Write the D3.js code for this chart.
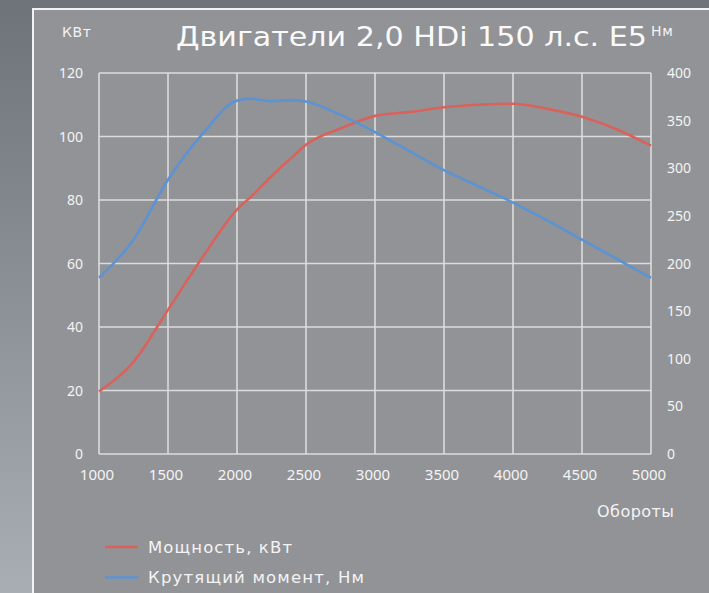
<!DOCTYPE html>
<html>
<head>
<meta charset="utf-8">
<script src="https://cdn.jsdelivr.net/npm/d3@7"></script>
<style>
  html, body { margin: 0; padding: 0; background: #72767c; }
  svg { display: block; font-family: "DejaVu Sans", sans-serif; }
</style>
</head>
<body>
<svg id="chart"></svg>
<script>
// data
const rpm    = [1000, 1250, 1500, 1750, 2000, 2100, 2250, 2400, 2500, 2750, 3000, 3250, 3500, 3750, 4000, 4250, 4500, 4750, 5000];
const power  = [19.7, 29, 45.4, 62, 77, 81, 87.5, 93.5, 97.4, 102.5, 106.5, 107.7, 109.2, 110, 110.3, 108.7, 106.2, 102.3, 97.1];
const torque = [185, 225, 288, 336, 371, 373, 370.5, 371.5, 370, 356, 338, 318, 298, 281, 264, 245, 225, 205, 185];

const xTicks = [1000, 1500, 2000, 2500, 3000, 3500, 4000, 4500, 5000];
const kwTicks = [0, 20, 40, 60, 80, 100, 120];
const nmTicks = [0, 50, 100, 150, 200, 250, 300, 350, 400];

const width = 709, height = 593;
const margin = { top: 73, right: 58, bottom: 139, left: 99 };
const innerWidth = width - margin.left - margin.right;
const innerHeight = height - margin.top - margin.bottom;

const svg = d3.select("#chart").attr("width", width).attr("height", height);

// background
const defs = svg.append("defs");
const grad = defs.append("linearGradient").attr("id", "bg").attr("x1", 0).attr("y1", 0).attr("x2", 0).attr("y2", 1);
grad.append("stop").attr("offset", "0%").attr("stop-color", "#6e7279");
grad.append("stop").attr("offset", "100%").attr("stop-color", "#a9aeb4");
svg.append("rect").attr("width", width).attr("height", height).attr("fill", "url(#bg)");
svg.append("rect").attr("x", 0).attr("y", 0).attr("width", width).attr("height", 8).attr("fill", "#6f737a");
svg.append("rect")
  .attr("x", 33).attr("y", 9).attr("width", width - 33).attr("height", height - 9)
  .attr("fill", "#929397");
svg.append("path")
  .attr("d", `M33,${height} V9 H${width}`)
  .attr("fill", "none").attr("stroke", "#f2f2f2").attr("stroke-width", 2);

// scales in page coordinates
const x = d3.scaleLinear().domain([1000, 5000]).range([margin.left, margin.left + innerWidth]);
const yKw = d3.scaleLinear().domain([0, 120]).range([margin.top + innerHeight, margin.top]);
const yNm = d3.scaleLinear().domain([0, 400]).range([margin.top + innerHeight, margin.top]);

// grid
const gridColor = "#dcdcdc";
svg.append("g").selectAll("line").data(xTicks).enter().append("line")
  .attr("x1", d => x(d)).attr("x2", d => x(d))
  .attr("y1", yKw(120)).attr("y2", yKw(0))
  .attr("stroke", gridColor).attr("stroke-width", 1.6);
svg.append("g").selectAll("line").data(kwTicks).enter().append("line")
  .attr("x1", x(1000)).attr("x2", x(5000))
  .attr("y1", d => yKw(d)).attr("y2", d => yKw(d))
  .attr("stroke", gridColor).attr("stroke-width", 1.6);

// tick labels
const textColor = "#f4f4f4";
const numFont = "Noto Sans";
svg.append("g").selectAll("text").data(xTicks).enter().append("text")
  .attr("x", d => x(d) - 2).attr("y", yKw(0) + 26)
  .attr("text-anchor", "middle")
  .attr("fill", textColor).attr("font-size", 15).attr("font-family", numFont)
  .text(d => d3.format("d")(d));

svg.append("g").selectAll("text").data(kwTicks).enter().append("text")
  .attr("x", x(1000) - 16).attr("y", d => yKw(d) + 5)
  .attr("text-anchor", "end")
  .attr("fill", textColor).attr("font-size", 14).attr("font-family", numFont)
  .text(d => d);

svg.append("g").selectAll("text").data(nmTicks).enter().append("text")
  .attr("x", x(5000) + 16).attr("y", d => yNm(d) + 5)
  .attr("fill", textColor).attr("font-size", 14).attr("font-family", numFont)
  .text(d => d);

// lines
const powerLine = d3.line()
  .x((d, i) => x(rpm[i]))
  .y(d => yKw(d))
  .curve(d3.curveMonotoneX);
const torqueLine = d3.line()
  .x((d, i) => x(rpm[i]))
  .y(d => yNm(d))
  .curve(d3.curveMonotoneX);

const red = "#d9625c", blue = "#5b93d3";
svg.append("path").datum(power).attr("fill", "none").attr("stroke", red).attr("stroke-width", 2.6).attr("d", powerLine);
svg.append("path").datum(torque).attr("fill", "none").attr("stroke", blue).attr("stroke-width", 2.6).attr("d", torqueLine);

// titles
svg.append("text").attr("x", 62).attr("y", 37).attr("fill", textColor).attr("font-size", 14)
  .attr("textLength", 29).attr("lengthAdjust", "spacing").text("КВт");
svg.append("text").attr("x", 176).attr("y", 46).attr("fill", "#fafafa").attr("font-size", 26.5)
  .attr("textLength", 471).attr("lengthAdjust", "spacingAndGlyphs")
  .text("Двигатели 2,0 HDi 150 л.с. E5");
svg.append("text").attr("x", 651).attr("y", 36).attr("fill", textColor).attr("font-size", 14)
  .attr("letter-spacing", 0.8).text("Нм");
svg.append("text").attr("x", 597).attr("y", 517).attr("fill", textColor).attr("font-size", 16)
  .attr("textLength", 77).attr("lengthAdjust", "spacing").text("Обороты");

// legend
const legendItems = [
  { label: "Мощность, кВт", color: red, len: 144 },
  { label: "Крутящий момент, Нм", color: blue, len: 216 }
];
const legend = svg.append("g").selectAll("g").data(legendItems).enter().append("g")
  .attr("transform", (d, i) => `translate(105,${547 + i * 30.5})`);
legend.append("line").attr("x1", 0).attr("x2", 33).attr("stroke", d => d.color).attr("stroke-width", 2.6);
legend.append("text").attr("x", 43).attr("y", 0).attr("dy", "0.35em").attr("fill", textColor)
  .attr("font-size", 16.5).attr("textLength", d => d.len).attr("lengthAdjust", "spacing").text(d => d.label);
</script>
</body>
</html>
